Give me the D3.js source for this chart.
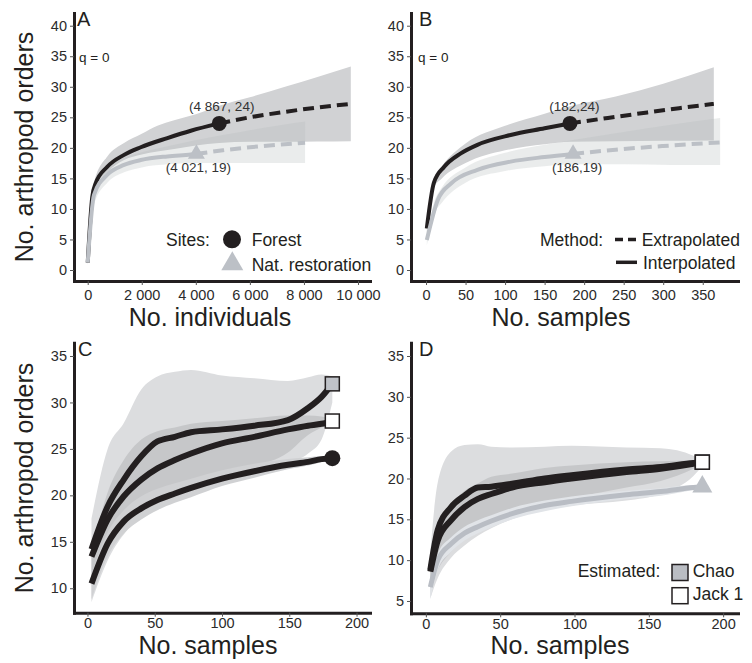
<!DOCTYPE html>
<html lang="en">
<head>
<meta charset="UTF-8">
<title>Arthropod orders: rarefaction and estimators</title>
<script src="https://d3js.org/d3.v7.min.js"></script>
<style>
  body { margin: 0; background: #fff; }
  svg text { font-family: "Liberation Sans", Arial, Helvetica, sans-serif; fill: #231f20; }
  .tick line { stroke: #555; stroke-width: 1; }
  .tick text { font-size: 14.5px; fill: #2b2b2b; }
</style>
</head>
<body>
<svg id="fig" width="752" height="663"></svg>
<script>
// ---------- data ----------
// A: individual-based curves (q = 0)
const aForestX = [1, 170, 296, 726, 1344, 1963, 2948, 3815, 4867];
const aForestY = [1.2, 12.0, 14.2, 16.9, 18.85, 20.1, 21.6, 22.8, 24];
const aForestExtX = [4867, 6000, 7300, 8500, 9734];
const aForestExtY = [24, 25.0, 25.9, 26.6, 27.2];
const aForestBandX = [1, 250, 726, 1344, 2000, 2578, 3196, 4000, 4867, 6000, 7300, 8500, 9734];
const aForestLo = [0.8, 13.3, 16.0, 18.0, 18.9, 19.4, 19.8, 20.4, 20.8, 21.0, 21.0, 21.05, 21.1];
const aForestHi = [1.6, 14.6, 18.6, 20.8, 22.3, 23.6, 24.5, 25.5, 26.9, 28.3, 30.0, 31.6, 33.3];

const aRestX = [1, 233, 726, 1344, 1963, 2948, 3815, 4021];
const aRestY = [1.2, 12.3, 15.6, 17.2, 18.0, 18.6, 18.9, 19];
const aRestExtX = [4021, 5000, 6000, 7000, 8042];
const aRestExtY = [19, 19.6, 20.1, 20.5, 20.85];
const aRestBandX = [1, 250, 726, 1344, 2000, 3000, 4021, 5000, 6000, 7000, 8042];
const aRestLo = [0.8, 11.0, 14.3, 16.0, 16.8, 17.3, 17.5, 17.5, 17.5, 17.5, 17.5];
const aRestHi = [1.6, 12.6, 16.8, 18.4, 19.3, 20.3, 21.3, 22.1, 22.9, 23.6, 24.3];

// B: sample-based curves (q = 0)
const bForestX = [1, 10, 23, 44, 65, 107, 150, 182];
const bForestY = [6.8, 14.3, 16.9, 19.1, 20.5, 22.1, 23.2, 24];
const bForestExtX = [182, 230, 280, 320, 364];
const bForestExtY = [24, 24.9, 25.8, 26.5, 27.2];
const bForestBandX = [1, 10, 20, 50, 100, 150, 182, 240, 300, 364];
const bForestLo = [6.0, 13.5, 15.0, 17.5, 19.6, 20.6, 21.0, 21.1, 21.15, 21.2];
const bForestHi = [7.6, 15.0, 17.0, 20.7, 23.6, 25.6, 26.8, 28.4, 30.5, 33.2];

const bRestX = [1, 15, 32, 65, 107, 150, 186];
const bRestY = [4.9, 11.5, 14.2, 16.4, 17.75, 18.5, 19];
const bRestExtX = [186, 240, 300, 372];
const bRestExtY = [19, 19.7, 20.3, 20.9];
const bRestBandX = [1, 10, 20, 50, 100, 150, 186, 250, 310, 372];
const bRestLo = [4.0, 9.0, 11.0, 14.3, 16.2, 17.0, 17.3, 17.3, 17.2, 17.2];
const bRestHi = [5.6, 11.0, 13.5, 16.8, 19.2, 20.5, 21.3, 22.6, 23.8, 24.9];

// C: Forest, observed vs estimators
const cX = [3, 15, 27, 40, 52, 65, 77, 100, 124, 149, 164, 174, 182];
const cChao = [14.2, 18.8, 21.7, 24.2, 25.8, 26.3, 26.8, 27.1, 27.5, 28.1, 29.4, 30.6, 32];
const cJack = [13.4, 17.4, 19.9, 21.7, 22.9, 23.8, 24.5, 25.6, 26.3, 27.1, 27.5, 27.7, 28];
const cObs = [10.5, 14.8, 17.2, 18.6, 19.5, 20.2, 20.8, 21.8, 22.6, 23.3, 23.6, 23.9, 24];
const cChaoLo = [8.5, 13.0, 15.8, 17.5, 18.6, 19.5, 20.1, 21.2, 22.1, 23.4, 24.5, 26.0, 30.0];
const cChaoHi = [17.5, 25.0, 27.8, 31.4, 32.8, 33.3, 33.5, 32.9, 32.6, 32.3, 32.7, 33.0, 32.8];
const cJackLo = [11.0, 15.5, 17.2, 18.5, 19.5, 20.3, 21.0, 22.3, 23.1, 24.6, 26.5, 27.3, 27.8];
const cJackHi = [14.0, 20.3, 23.8, 26.0, 26.9, 27.3, 27.7, 28.0, 28.3, 28.6, 28.6, 28.5, 28.2];
const cObsLo = [8.8, 13.4, 15.9, 17.4, 18.4, 19.2, 19.8, 21.0, 21.9, 22.8, 23.2, 23.6, 23.9];
const cObsHi = [11.5, 16.0, 18.4, 19.9, 20.7, 21.3, 21.8, 22.7, 23.4, 23.9, 24.1, 24.2, 24.2];

// D: Nat. restoration, observed vs estimators
const dX = [3, 8, 17, 26, 35, 44, 58, 80, 98, 135, 158, 180, 186];
const dChao = [8.8, 13.7, 16.5, 17.9, 18.9, 19.0, 19.35, 20.0, 20.4, 21.1, 21.4, 21.9, 22];
const dJack = [8.6, 12.4, 14.9, 16.5, 17.5, 18.1, 18.9, 19.55, 20.0, 20.8, 21.2, 21.8, 22];
const dObs = [6.7, 10.0, 12.0, 13.3, 14.1, 14.8, 15.7, 16.7, 17.2, 18.0, 18.4, 18.9, 19];
const dChaoLo = [5.3, 7.8, 10.3, 11.8, 13.0, 13.9, 15.0, 16.2, 16.7, 17.3, 18.1, 20.3, 21.5];
const dChaoHi = [11.0, 19.5, 23.3, 24.1, 24.2, 23.9, 23.8, 23.9, 24.0, 23.8, 23.7, 22.8, 22.2];
const dJackLo = [6.5, 8.8, 11.0, 12.8, 14.1, 14.8, 15.7, 16.9, 17.6, 18.9, 19.7, 21.2, 21.8];
const dJackHi = [9.5, 13.8, 16.7, 18.5, 19.4, 20.2, 20.6, 21.3, 21.6, 22.0, 22.1, 22.2, 22.1];
const dObsLo = [5.2, 8.8, 11.0, 12.4, 13.3, 14.0, 15.0, 16.0, 16.6, 17.5, 17.9, 18.6, 18.8];
const dObsHi = [7.6, 10.8, 12.8, 14.1, 14.9, 15.5, 16.4, 17.3, 17.8, 18.5, 18.8, 19.2, 19.2];

// ticks and labels
const abYTicks = [0, 5, 10, 15, 20, 25, 30, 35, 40];
const aXTicks = [0, 2000, 4000, 6000, 8000, 10000];
const bXTicks = [0, 50, 100, 150, 200, 250, 300, 350];
const cdXTicks = [0, 50, 100, 150, 200];
const cYTicks = [10, 15, 20, 25, 30, 35];
const dYTicks = [5, 10, 15, 20, 25, 30, 35];
const aRefLabels = ["(4 867, 24)", "(4 021, 19)"];
const bRefLabels = ["(182,24)", "(186,19)"];

// ---------- drawing ----------
const ink = "#231f20";
const restCol = "#bcc0c6";
const svg = d3.select("#fig");
const spaced = d3.formatLocale({ decimal: ".", thousands: " ", grouping: [3], currency: ["", ""] }).format(",");

function panel(xr, yr, xd, yd, xTicks, yTicks, xFmt, xPad) {
  const x = d3.scaleLinear().domain(xd).range(xr);
  const y = d3.scaleLinear().domain(yd).range(yr);
  const g = svg.append("g");
  const layers = { bands: g.append("g"), lines: g.append("g"), marks: g.append("g") };
  const xa = g.append("g").attr("transform", `translate(0,${yr[0]})`)
    .call(d3.axisBottom(x).tickValues(xTicks).tickSize(4).tickSizeOuter(0)
      .tickPadding(xPad == null ? 5 : xPad).tickFormat(xFmt || d3.format("d")));
  const ya = g.append("g").attr("transform", `translate(${xr[0]},0)`)
    .call(d3.axisLeft(y).tickValues(yTicks).tickSize(4).tickSizeOuter(0).tickPadding(3));
  [xa, ya].forEach(a => a.select(".domain").attr("stroke", ink).attr("stroke-width", 3).attr("stroke-linecap", "square"));
  return { x, y, g, layers };
}

function band(p, xs, lo, hi, fill, op) {
  const area = d3.area().curve(d3.curveMonotoneX)
    .x((d, i) => p.x(xs[i])).y0((d, i) => p.y(lo[i])).y1((d, i) => p.y(hi[i]));
  p.layers.bands.append("path").datum(xs).attr("d", area).attr("fill", fill).attr("fill-opacity", op == null ? 1 : op);
}

function curve(p, xs, ys, col, w, dash) {
  const ln = d3.line().curve(d3.curveMonotoneX).x((d, i) => p.x(xs[i])).y((d, i) => p.y(ys[i]));
  p.layers.lines.append("path").datum(xs).attr("d", ln).attr("fill", "none")
    .attr("stroke", col).attr("stroke-width", w).attr("stroke-dasharray", dash || null);
}

function txt(x, y, s, size, anchor, col) {
  return svg.append("text").attr("x", x).attr("y", y).attr("font-size", size)
    .attr("text-anchor", anchor || "start").style("fill", col || ink).text(s);
}

function triangle(g, cx, cy, w, col) {
  g.append("path").attr("d", d3.symbol(d3.symbolTriangle, 0.433 * w * w)())
    .attr("transform", `translate(${cx},${cy})`).attr("fill", col);
}

// Panel A
const A = panel([74, 370], [281, 13], [-507, 10444], [-1.8, 42.08], aXTicks, abYTicks, spaced);
band(A, aForestBandX, aForestLo, aForestHi, "#d1d2d4");
band(A, aRestBandX, aRestLo, aRestHi, "#b4bcbc", 0.28);
curve(A, aForestX, aForestY, ink, 4);
curve(A, aForestExtX, aForestExtY, ink, 4, "11,6");
curve(A, aRestX, aRestY, restCol, 4);
curve(A, aRestExtX, aRestExtY, restCol, 4, "11,6");
A.layers.marks.append("circle").attr("cx", A.x(aForestX[8])).attr("cy", A.y(aForestY[8])).attr("r", 7.5).attr("fill", ink);
triangle(A.layers.marks, A.x(aRestX[7]), A.y(aRestY[7]), 17, restCol);
txt(A.x(aForestX[8]) + 2.5, 111, aRefLabels[0], "13.5px", "middle", "#333");
txt(A.x(aRestX[7]) + 2, 171.7, aRefLabels[1], "13.5px", "middle", "#333");

// Panel B
const B = panel([411, 738], [281, 13], [-19, 394.6], [-1.8, 42.08], bXTicks, abYTicks);
band(B, bForestBandX, bForestLo, bForestHi, "#d1d2d4");
band(B, bRestBandX, bRestLo, bRestHi, "#b4bcbc", 0.28);
curve(B, bForestX, bForestY, ink, 4);
curve(B, bForestExtX, bForestExtY, ink, 4, "11,6");
curve(B, bRestX, bRestY, restCol, 4);
curve(B, bRestExtX, bRestExtY, restCol, 4, "11,6");
B.layers.marks.append("circle").attr("cx", B.x(bForestX[7])).attr("cy", B.y(bForestY[7])).attr("r", 7.5).attr("fill", ink);
triangle(B.layers.marks, B.x(bRestX[6]), B.y(bRestY[6]), 17, restCol);
txt(B.x(bForestX[7]) + 4.5, 111, bRefLabels[0], "13.5px", "middle", "#333");
txt(B.x(bRestX[6]) + 4, 171.7, bRefLabels[1], "13.5px", "middle", "#333");

// Panel C
const C = panel([74, 370], [612.7, 342.7], [-10, 210], [7.37, 36.43], cdXTicks, cYTicks, null, 1);
band(C, cX, cChaoLo, cChaoHi, "#dcdddf");
band(C, cX, cJackLo, cJackHi, "#c6c7c9");
band(C, cX, cObsLo, cObsHi, "#d0d1d3");
curve(C, cX, cObs, ink, 6);
curve(C, cX, cJack, ink, 6);
curve(C, cX, cChao, ink, 6);
const cn = cX.length - 1;
C.layers.marks.append("rect").attr("x", C.x(cX[cn]) - 7).attr("y", C.y(cChao[cn]) - 7).attr("width", 14).attr("height", 14)
  .attr("fill", "#bfc2c8").attr("stroke", ink).attr("stroke-width", 1.5);
C.layers.marks.append("rect").attr("x", C.x(cX[cn]) - 7).attr("y", C.y(cJack[cn]) - 7).attr("width", 14).attr("height", 14)
  .attr("fill", "#fff").attr("stroke", ink).attr("stroke-width", 1.5);
C.layers.marks.append("circle").attr("cx", C.x(cX[cn])).attr("cy", C.y(cObs[cn])).attr("r", 8).attr("fill", ink);

// Panel D
const D = panel([411, 738], [613.3, 342.7], [-10, 210], [3.49, 36.63], cdXTicks, dYTicks, null, 1);
band(D, dX, dChaoLo, dChaoHi, "#dcdddf");
band(D, dX, dJackLo, dJackHi, "#c6c7c9");
band(D, dX, dObsLo, dObsHi, "#e1e4e8");
curve(D, dX, dObs, "#b9bdc4", 5);
curve(D, dX, dJack, ink, 6);
curve(D, dX, dChao, ink, 6);
const dn = dX.length - 1;
D.layers.marks.append("rect").attr("x", D.x(dX[dn]) - 7).attr("y", D.y(dChao[dn]) - 7).attr("width", 14).attr("height", 14)
  .attr("fill", "#bfc2c8").attr("stroke", ink).attr("stroke-width", 1.5);
D.layers.marks.append("rect").attr("x", D.x(dX[dn]) - 7).attr("y", D.y(dJack[dn]) - 7).attr("width", 14).attr("height", 14)
  .attr("fill", "#fff").attr("stroke", ink).attr("stroke-width", 1.5);
triangle(D.layers.marks, D.x(dX[dn]), D.y(dObs[dn]), 20, restCol);

// panel letters, q labels, axis titles
txt(77, 26, "A", "20px");
txt(419, 26, "B", "20px");
txt(78, 356, "C", "20px");
txt(419, 356, "D", "20px");
txt(79, 62, "q = 0", "13.5px");
txt(418, 62, "q = 0", "13.5px");
txt(210, 326, "No. individuals", "25px", "middle");
txt(561, 326, "No. samples", "25px", "middle");
txt(208, 654, "No. samples", "25px", "middle");
txt(560, 654, "No. samples", "25px", "middle");
txt(0, 0, "No. arthropod orders", "25px", "middle").attr("transform", "translate(33,147) rotate(-90)");
txt(0, 0, "No. arthropod orders", "25px", "middle").attr("transform", "translate(33,478) rotate(-90)");

// legends
txt(166, 245.5, "Sites:", "17.5px");
svg.append("circle").attr("cx", 232).attr("cy", 239.3).attr("r", 9).attr("fill", ink);
txt(251.7, 245.5, "Forest", "17.5px");
triangle(svg, 232.3, 264, 22, restCol);
txt(251.7, 270.5, "Nat. restoration", "17.5px");

txt(540, 246, "Method:", "17.5px");
svg.append("line").attr("x1", 615).attr("x2", 636).attr("y1", 239.5).attr("y2", 239.5)
  .attr("stroke", ink).attr("stroke-width", 3.5).attr("stroke-dasharray", "8,5");
txt(641.7, 246, "Extrapolated", "17.5px");
svg.append("line").attr("x1", 616).attr("x2", 637).attr("y1", 262.3).attr("y2", 262.3)
  .attr("stroke", ink).attr("stroke-width", 3.5);
txt(643, 268.5, "Interpolated", "17.5px");

txt(577.7, 577, "Estimated:", "17.5px");
svg.append("rect").attr("x", 672).attr("y", 564.5).attr("width", 16).attr("height", 16)
  .attr("fill", "#babdc3").attr("stroke", ink).attr("stroke-width", 1.5);
txt(692.7, 577, "Chao", "17.5px");
svg.append("rect").attr("x", 672).attr("y", 587.7).attr("width", 16).attr("height", 16)
  .attr("fill", "#fff").attr("stroke", ink).attr("stroke-width", 1.5);
txt(692.7, 600, "Jack 1", "17.5px");
</script>
</body>
</html>
